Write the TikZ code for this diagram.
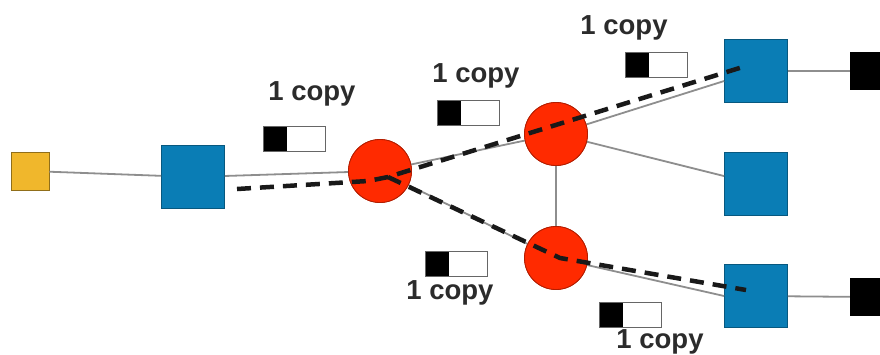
\documentclass[tikz,border=0pt]{standalone}
\usepackage{fontspec}
\setmainfont{Liberation Sans}
\usetikzlibrary{calc}
\definecolor{ylw}{HTML}{F0B72C}
\definecolor{blu}{HTML}{0A7DB5}
\definecolor{rd}{HTML}{FF2A00}
\definecolor{edge}{HTML}{8E8E8E}
\definecolor{txt}{HTML}{2B2B2B}
\tikzset{
  sq/.style={draw=#1!70!black, fill=#1, line width=0.8pt, minimum size=63pt, inner sep=0pt},
  ysq/.style={draw=ylw!60!black, fill=ylw, line width=0.8pt, minimum size=38pt, inner sep=0pt},
  bsq/.style={fill=black, minimum size=38pt, inner sep=0pt},
  rnode/.style={circle, draw=rd!70!black, fill=rd, line width=0.8pt, minimum size=63pt, inner sep=0pt},
  link/.style={draw=edge, line width=1.8pt},
  route/.style={draw=black!90, line width=4.5pt, dash pattern=on 14pt off 9pt},
  flag/.style={draw=black!60, fill=white, line width=1pt, minimum width=62pt, minimum height=25pt, inner sep=0pt,
    path picture={\fill[black] (path picture bounding box.south west) rectangle ($(path picture bounding box.north west)!0.39!(path picture bounding box.north east)$);}},
  lbl/.style={font=\bfseries\fontsize{27.5}{29}\selectfont, text=txt, inner sep=0pt}
}
\begin{document}
\begin{tikzpicture}[x=1pt,y=-1pt]
\useasboundingbox (0,0) rectangle (880,354);
% nodes
\node[ysq] (y) at (30,171) {};
\node[sq=blu] (b1) at (193,177) {};
\node[rnode] (r1) at (380,171) {};
\node[rnode] (r2) at (556,134) {};
\node[rnode] (r3) at (556,258) {};
\node[sq=blu] (bt) at (756,71) {};
\node[sq=blu] (bm) at (756,184) {};
\node[sq=blu] (bb) at (756,296) {};
\node[bsq] (kt) at (869,71) {};
\node[bsq] (kb) at (869,297) {};
% links
\path[link] (y) -- (b1);
\path[link] (b1) -- (r1);
\path[link] (r1.center) -- (r2.center);
\path[link] (r1.center) -- (r3.center);
\path[link] (r2) -- (r3);
\path[link] (r2) -- (bt);
\path[link] (r2) -- (bm);
\path[link] (r3.center) -- (bb.west);
\path[link] (bt) -- (kt);
\path[link] (bb) -- (kb);
% redraw circles over links
\node[rnode] at (r1) {};
\node[rnode] at (r2) {};
\node[rnode] at (r3) {};
% routes
\coordinate (s1) at (237,189);
\coordinate (k1) at (368,181);
\coordinate (k2) at (388,177);
\coordinate (e1) at (746,66);
\coordinate (m3) at (560,258);
\coordinate (e2) at (746,290);
\path[route] (s1) -- (k1) -- (k2) -- (e1);
\path[route] (k2) -- (m3) -- (e2);
% flags and labels
\node[flag] (f1) at (294,139) {};
\node[lbl, anchor=south] (l1) at ($(f1.north)+(18,-20)$) {1 copy};
\node[flag] (f2) at (468,113) {};
\node[lbl, anchor=south] (l2) at ($(f2.north)+(8,-12)$) {1 copy};
\node[flag] (f3) at (656,65) {};
\node[lbl, anchor=south] (l3) at ($(f3.north)+(-32,-12)$) {1 copy};
\node[flag] (f4) at (456,264) {};
\node[lbl, anchor=north] (l4) at ($(f4.south)+(-6,3)$) {1 copy};
\node[flag] (f5) at (630,315) {};
\node[lbl, anchor=north] (l5) at ($(f5.south)+(30,1)$) {1 copy};
\end{tikzpicture}
\end{document}
